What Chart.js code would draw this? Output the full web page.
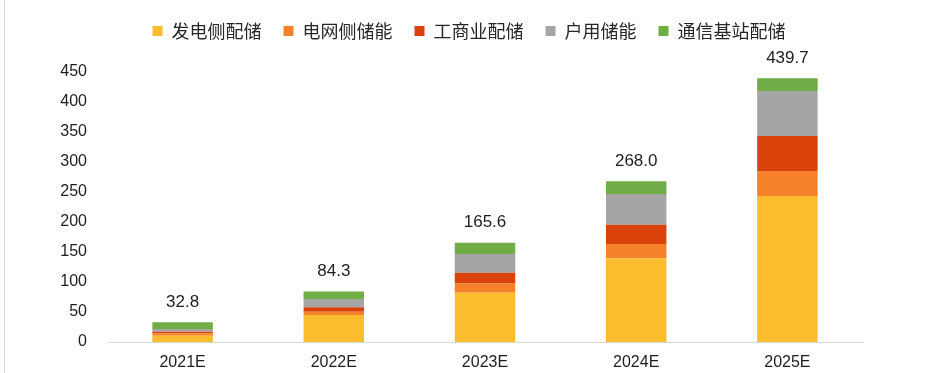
<!DOCTYPE html>
<html>
<head>
<meta charset="utf-8">
<script src="https://cdn.jsdelivr.net/npm/chart.js@4"></script>
<style>
  html, body { margin: 0; padding: 0; background: #fff; }
  #wrap { position: relative; width: 944px; height: 373px; }
  #edge { position: absolute; left: 4px; top: 0; width: 1px; height: 373px; background: #d4d4d4; }
  canvas { display: block; }
</style>
</head>
<body>
<div id="wrap">
  <canvas id="c" width="944" height="373"></canvas>
  <div id="edge"></div>
</div>
<script>
const categories = ['2021E', '2022E', '2023E', '2024E', '2025E'];
const seriesNames = ['发电侧配储', '电网侧储能', '工商业配储', '户用储能', '通信基站配储'];
const generationSide = [10.6, 45.0, 82.0, 139.5, 243.3];
const gridSide = [3.8, 5.6, 15.6, 24.0, 41.7];
const commercialIndustrial = [2.8, 7.2, 18.0, 32.0, 58.3];
const household = [4.5, 14.0, 31.0, 51.0, 75.0];
const telecomBase = [11.1, 12.5, 19.0, 21.5, 21.4];
const totalLabels = ['32.8', '84.3', '165.6', '268.0', '439.7'];
const yTicks = [0, 50, 100, 150, 200, 250, 300, 350, 400, 450];

const colors = ['#FBBC2E', '#F5822A', '#D9430B', '#A5A5A5', '#70AD47'];
const seriesData = [generationSide, gridSide, commercialIndustrial, household, telecomBase];

const totalPlugin = {
  id: 'totals',
  afterDatasetsDraw(chart) {
    const ctx = chart.ctx;
    const last = chart.getDatasetMeta(chart.data.datasets.length - 1);
    ctx.save();
    ctx.font = '17px "Liberation Sans", Arial, sans-serif';
    ctx.fillStyle = '#1e1e1e';
    ctx.textAlign = 'center';
    ctx.textBaseline = 'middle';
    categories.forEach((c, i) => {
      let sum = 0;
      chart.data.datasets.forEach(ds => sum += ds.data[i]);
      const y = chart.scales.y.getPixelForValue(sum);
      const x = last.data[i].x;
      ctx.fillText(totalLabels[i], x, y - 20);
    });
    ctx.restore();
  }
};

const legendPlugin = {
  id: 'legendHeight',
  beforeInit(chart) {
    const orig = chart.legend.fit;
    chart.legend.fit = function () {
      orig.call(this);
      this.height = 72;
    };
  },
  afterLayout(chart) {
    const lg = chart.legend;
    const shift = 469 - (lg.left + lg.right) / 2;
    lg.left += shift;
    lg.right += shift;
  }
};

new Chart(document.getElementById('c'), {
  type: 'bar',
  data: {
    labels: categories,
    datasets: seriesNames.map((n, k) => ({
      label: n,
      data: seriesData[k],
      backgroundColor: colors[k],
      borderWidth: 0,
      barPercentage: 0.4,
      categoryPercentage: 1.0
    }))
  },
  options: {
    responsive: false,
    animation: false,
    layout: { padding: { left: 0, right: 81, top: 0, bottom: 0 } },
    plugins: {
      legend: {
        position: 'top',
        labels: {
          boxWidth: 10,
          boxHeight: 10,
          padding: 22,
          color: '#262626',
          font: { size: 18, family: '"Noto Sans CJK SC", sans-serif' }
        }
      },
      tooltip: { enabled: false }
    },
    scales: {
      x: {
        stacked: true,
        grid: { display: false, drawTicks: false },
        border: { color: '#d9d9d9', width: 1 },
        ticks: { color: '#1e1e1e', padding: 11, font: { size: 16, family: '"Liberation Sans", Arial, sans-serif' } },
        afterFit(s) { s.height = 31; }
      },
      y: {
        stacked: true,
        min: 0,
        max: 450,
        grid: { display: false, drawTicks: false },
        border: { display: false },
        afterBuildTicks(s) { s.ticks = yTicks.map(v => ({ value: v })); },
        ticks: { color: '#1e1e1e', padding: 20, font: { size: 16, family: '"Liberation Sans", Arial, sans-serif' } },
        afterFit(s) { s.width = 107; }
      }
    }
  },
  plugins: [totalPlugin, legendPlugin]
});
</script>
</body>
</html>
